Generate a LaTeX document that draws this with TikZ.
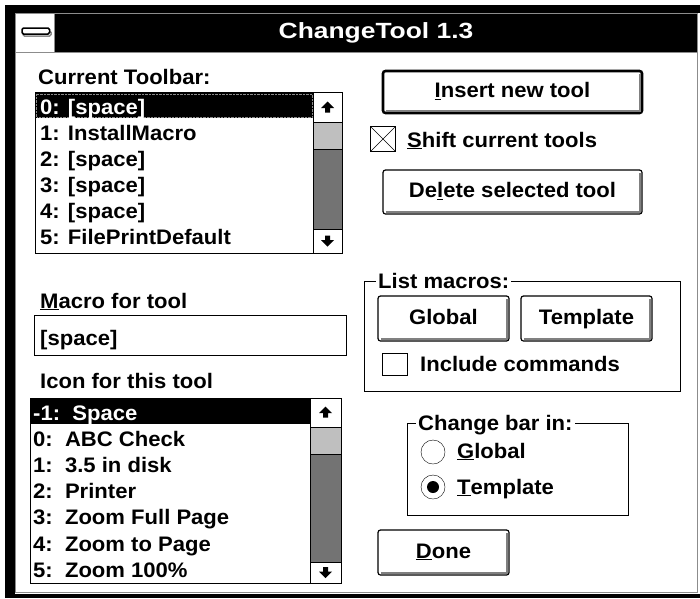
\documentclass[tikz,border=0pt]{standalone}
\usepackage{fontspec}
\usetikzlibrary{calc}
\newfontfamily\dlgfont{Liberation Sans}[FakeStretch=1.05]
\newfontfamily\ttlfont{Liberation Sans}[FakeStretch=1.2]
\newcommand\dlgsize{\dlgfont\bfseries\fontsize{21}{23}\selectfont}
\tikzset{
  lbl/.style={anchor=base west, inner sep=0pt, font=\dlgsize},
  btnframe/.style={draw=black, fill=white, line width=1.2pt, rounded corners=2.5pt},
  btnshade/.style={draw=black!50, line width=2pt},
  btntext/.style={inner sep=0pt, text height=15pt, text depth=4pt, font=\dlgsize},
  track/.style={fill=black!55, draw=black},
  thumb/.style={fill=black!25, draw=black},
  arrowbox/.style={fill=white, draw=black},
  grouplbl/.style={anchor=base west, inner xsep=2pt, inner ysep=1pt, fill=white, font=\dlgsize}
}
% button: name, x1, y1, x2, y2, text
\newcommand\winbutton[7][]{%
  \draw[btnframe,#1] (#3,#4) rectangle (#5,#6);
  \draw[btnshade] ($(#5,#4)+(-2.5,3)$) -- ($(#5,#6)+(-2.5,-2.5)$) -- ($(#3,#6)+(3,-2.5)$);
  \node[btntext] (#2) at ($(#3,#4)!0.5!(#5,#6)$) {#7};
}
\def\uparrow(#1,#2){\fill[shift={(#1,#2)}] (-6.5,1) -- (0,-5.5) -- (6.5,1) -- (2.5,1) -- (2.5,5.5) -- (-2.5,5.5) -- (-2.5,1) -- cycle;}
\def\downarrow(#1,#2){\fill[shift={(#1,#2)}] (-6.5,-1) -- (0,5.5) -- (6.5,-1) -- (2.5,-1) -- (2.5,-5.5) -- (-2.5,-5.5) -- (-2.5,-1) -- cycle;}

\begin{document}
\begin{tikzpicture}[x=1pt,y=-1pt]
		%%%%% START %%%%%
		\useasboundingbox (0,0) rectangle (700,598);
		\fill[white] (0,0) rectangle (700,598);
		
		% window frame
		\fill[black] (5,5) rectangle (700,13);
		\fill[black] (5,5) rectangle (15,598);
		\fill[black] (5,594) rectangle (700,598);
		\draw[black!45] (15.5,13) -- (15.5,592.5) -- (697.5,592.5) -- (697.5,13);
		
		% title bar
		\fill[black] (54,14) rectangle (697,52);
		\draw[black!45] (15.5,13.5) -- (697.5,13.5);
		\draw[black!45] (15.5,52.5) -- (697.5,52.5);
		\draw[black!45] (54.5,14) -- (54.5,52);
		\draw[black!45, line width=1.5pt, rounded corners=1.5pt] (23,31) rectangle (51,36);
		\draw[fill=white, line width=1.5pt, rounded corners=1.5pt] (22,28) rectangle (49.5,34);
		\node[text=white, inner sep=0pt, font={\ttlfont\bfseries\fontsize{22}{24}\selectfont}] (title) at (376,33) {ChangeTool 1.3};
		
		% current toolbar list
		\node[lbl] (curlbl) at (38,84) {Current Toolbar:};
		\draw[fill=white] (35,92.5) rectangle (342,253.5);
		\fill[black] (35.5,93) rectangle (313,118);
		\draw[black!45, densely dotted] (36.5,94) rectangle (312,117);
		\node[lbl, text=white] (tb0) at (40,114) {0: [space]};
		\foreach \t [count=\i from 1] in {{1: InstallMacro},{2: [space]},{3: [space]},{4: [space]},{5: FilePrintDefault}}
		  \node[lbl] (tb\i) at (40,114+26*\i) {\t};
		\draw[track] (313,92.5) rectangle (342,253.5);
		\draw[thumb] (313,122) rectangle (342,149);
		\draw[arrowbox] (313,92.5) rectangle (342,122);
		\draw[arrowbox] (313,229) rectangle (342,253.5);
		\uparrow(327.5,107)
		\downarrow(327.5,241)
		
		% macro for tool
		\node[lbl] (maclbl) at (40,308) {\underline{M}acro for tool};
		\draw[fill=white] (34.5,315.5) rectangle (346,355);
		\node[lbl] (macedit) at (40,345) {[space]};
		
		% icon list
		\node[lbl] (iconlbl) at (40,388) {Icon for this tool};
		\draw[fill=white] (30,398) rectangle (341,583);
		\fill[black] (30.5,398.5) rectangle (310,424);
		\node[lbl, text=white] (ic0) at (33,420) {-1:~~Space};
		\foreach \t [count=\i from 1] in {{0:~~ABC Check},{1:~~3.5 in disk},{2:~~Printer},{3:~~Zoom Full Page},{4:~~Zoom to Page},{5:~~Zoom 100\%}}
		  \node[lbl] (ic\i) at (33,420+26.2*\i) {\t};
		\draw[track] (310,398) rectangle (341,583);
		\draw[thumb] (310,427) rectangle (341,454);
		\draw[arrowbox] (310,398) rectangle (341,427);
		\draw[arrowbox] (310,562) rectangle (341,583);
		\uparrow(325.5,412)
		\downarrow(325.5,572.5)
		
		% insert / delete
		\winbutton[line width=2.6pt]{insbtn}{383}{71}{642}{113}{\underline{I}nsert new tool}
		\draw[fill=white] (370.5,126.5) rectangle (395.5,151.5);
		\draw (370.5,126.5) -- (395.5,151.5) (370.5,151.5) -- (395.5,126.5);
		\node[lbl] (shiftlbl) at (407,147) {\underline{S}hift current tools};
		\winbutton{delbtn}{383}{170}{642}{214}{De\underline{l}ete selected tool}
		
		% list macros group
		\draw (364.5,281.5) rectangle (680.5,391.5);
		\node[grouplbl] (listlbl) at (376,288) {List macros:};
		\winbutton{globbtn}{378}{296}{509}{341}{Global}
		\winbutton{tmplbtn}{521}{296}{652}{341}{Template}
		\draw[fill=white] (382.5,353.5) rectangle (407.5,375.5);
		\node[lbl] (inclbl) at (420,371) {Include commands};
		
		% change bar group
		\draw (407.5,423.5) rectangle (628.5,515.5);
		\node[grouplbl] (chglbl) at (416,430) {Change bar in:};
		\draw[fill=white] (433,452) circle [radius=12];
		\node[lbl] (globrad) at (457,458) {\underline{G}lobal};
		\draw[fill=white] (433,487) circle [radius=12];
		\fill (433,487) circle [radius=6];
		\node[lbl] (tmplrad) at (457,494) {\underline{T}emplate};
		
		\winbutton{donebtn}{378}{530}{509}{575}{\underline{D}one}
		%%%%% END %%%%%
\end{tikzpicture}
\end{document}
